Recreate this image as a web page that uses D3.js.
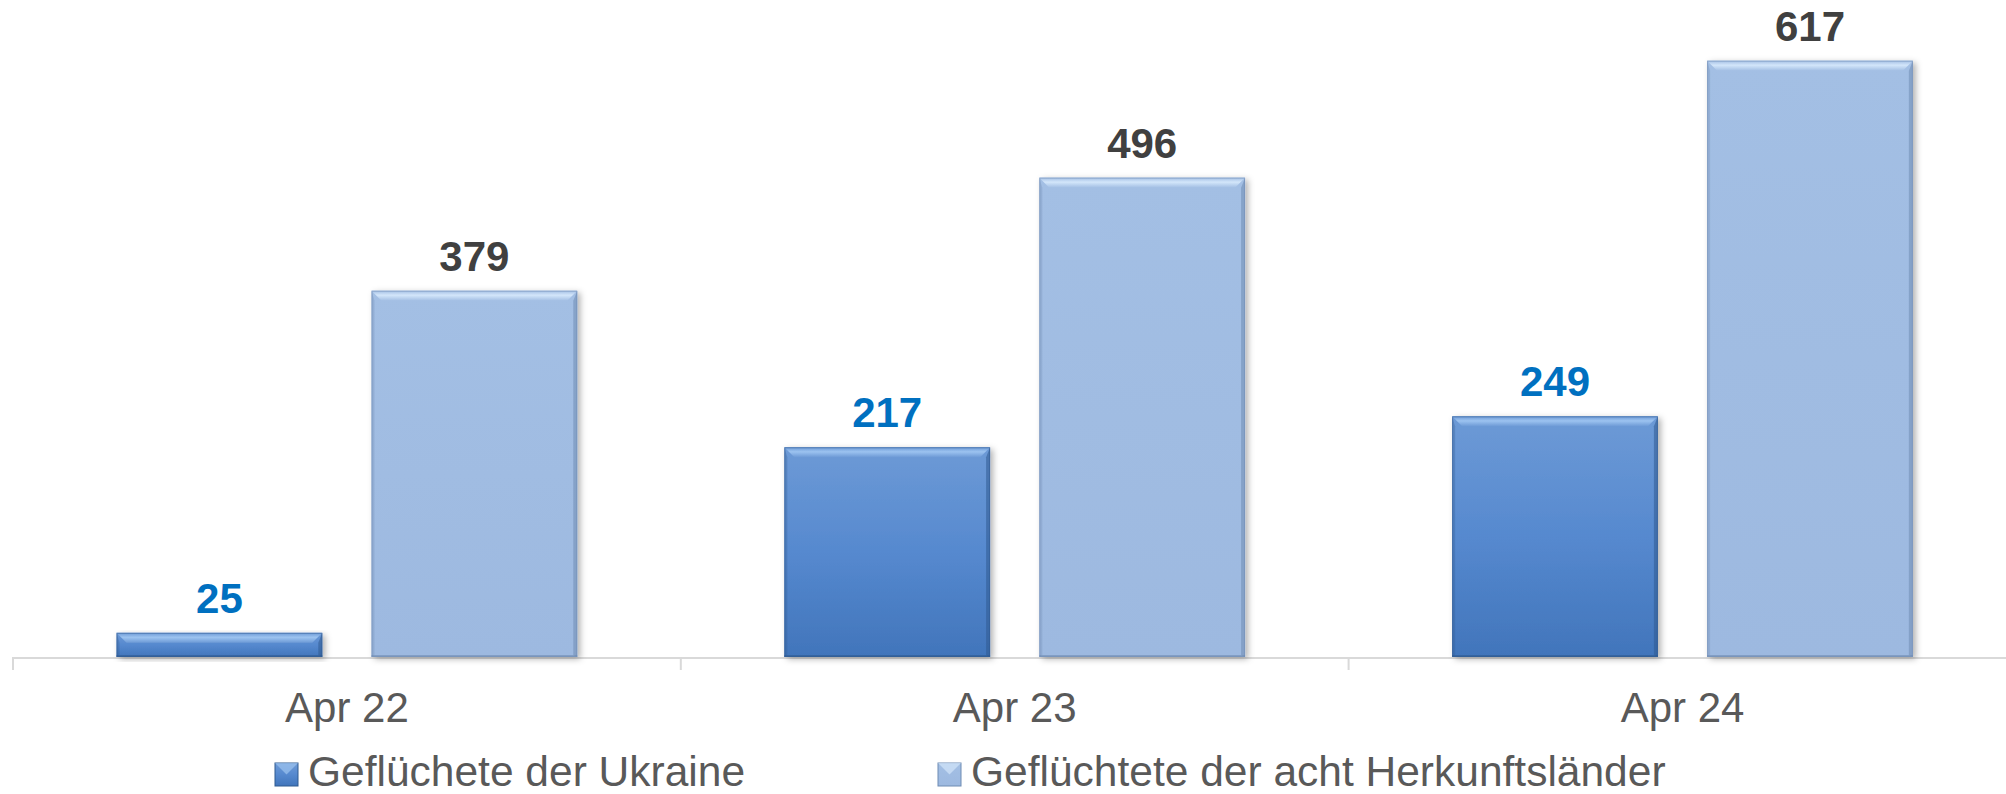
<!DOCTYPE html>
<html>
<head>
<meta charset="utf-8">
<script src="https://cdn.jsdelivr.net/npm/d3@7"></script>
<style>
  body { margin: 0; background: #fff; }
  svg { display: block; font-family: "Liberation Sans", Arial, sans-serif; }
</style>
</head>
<body>
<svg class="chart" width="2006" height="794"></svg>
<script>
//------------------------------------------------------------------------------
//Data
//------------------------------------------------------------------------------
var categories = ["Apr 22", "Apr 23", "Apr 24"];
var seriesNames = ["Geflüchete der Ukraine", "Geflüchtete der acht Herkunftsländer"];
var ukraine = [25, 217, 249];
var achtLaender = [379, 496, 617];

//------------------------------------------------------------------------------
//Chart
//------------------------------------------------------------------------------
var svg = d3.select(".chart");
var width = +svg.attr("width");

var baseY = 657;
var x0 = d3.scaleBand().domain(categories).range([13, 13 + 3 * 667.8]);
var x1 = d3.scaleBand().domain(seriesNames).range([0, x0.bandwidth()])
  .paddingInner(0.193).paddingOuter(0.406);
var y = d3.scaleLinear().domain([0, 617]).range([baseY, 60.7]);

var styles = [
  { top: "#6d9ad6", mid: "#5689cf", bot: "#4175bb", bevel: "#9cc3f0", dark: "#2f5a90", label: "#0070c0" },
  { top: "#a3bfe4", mid: "#a0bce2", bot: "#9db9e0", bevel: "#d3e6fa", dark: "#6f8cb3", label: "#404040" }
];

var defs = svg.append("defs");
styles.forEach(function (s, i) {
  var g = defs.append("linearGradient").attr("id", "grad" + i)
    .attr("x1", 0).attr("y1", 0).attr("x2", 0).attr("y2", 1);
  g.append("stop").attr("offset", "0%").attr("stop-color", s.top);
  g.append("stop").attr("offset", "50%").attr("stop-color", s.mid);
  g.append("stop").attr("offset", "100%").attr("stop-color", s.bot);
  // top bevel: light in the middle, fading towards the bar
  var b = defs.append("linearGradient").attr("id", "bevel" + i)
    .attr("x1", 0).attr("y1", 0).attr("x2", 0).attr("y2", 1);
  b.append("stop").attr("offset", "0%").attr("stop-color", s.top);
  b.append("stop").attr("offset", "45%").attr("stop-color", s.bevel);
  b.append("stop").attr("offset", "100%").attr("stop-color", s.top);
});
var f = defs.append("filter").attr("id", "shadow")
  .attr("x", "-10%").attr("y", "-10%").attr("width", "130%").attr("height", "130%");
f.append("feDropShadow").attr("dx", 3).attr("dy", 2).attr("stdDeviation", 3)
  .attr("flood-color", "#000").attr("flood-opacity", 0.3);

// axis line + ticks
svg.append("line")
  .attr("x1", 13).attr("x2", width).attr("y1", baseY + 1).attr("y2", baseY + 1)
  .attr("stroke", "#d9d9d9").attr("stroke-width", 2);
var tickPos = [x0.range()[0]].concat(categories.map(function (c) { return x0(c) + x0.bandwidth(); }));
svg.selectAll(".tick").data(tickPos).enter().append("line")
  .attr("x1", function (d) { return d; }).attr("x2", function (d) { return d; })
  .attr("y1", baseY).attr("y2", baseY + 13)
  .attr("stroke", "#d9d9d9").attr("stroke-width", 2);

var rows = [];
categories.forEach(function (c, i) {
  rows.push({ cat: c, s: 0, value: ukraine[i] });
  rows.push({ cat: c, s: 1, value: achtLaender[i] });
});

var bars = svg.selectAll(".bar").data(rows).enter().append("g").attr("class", "bar");

bars.each(function (d) {
  var g = d3.select(this);
  var bx = x0(d.cat) + x1(seriesNames[d.s]);
  var bw = x1.bandwidth();
  var by = y(d.value);
  var bh = baseY - by;
  var st = styles[d.s];
  var b = Math.min(10, bh / 2);

  g.append("rect")
    .attr("x", bx).attr("y", by).attr("width", bw).attr("height", bh)
    .attr("fill", "url(#grad" + d.s + ")")
    .attr("filter", "url(#shadow)");
  // top bevel
  g.append("polygon")
    .attr("points", [[bx, by], [bx + bw, by], [bx + bw - b, by + b], [bx + b, by + b]].join(" "))
    .attr("fill", "url(#bevel" + d.s + ")");
  // right edge
  g.append("polygon")
    .attr("points", [[bx + bw, by], [bx + bw, baseY], [bx + bw - 4, baseY - 2], [bx + bw - 4, by + b]].join(" "))
    .attr("fill", st.dark).attr("opacity", 0.55);
  // left edge
  g.append("polygon")
    .attr("points", [[bx, by], [bx + 3, by + b], [bx + 3, baseY - 2], [bx, baseY]].join(" "))
    .attr("fill", st.dark).attr("opacity", 0.3);
  // bottom edge
  g.append("rect")
    .attr("x", bx).attr("y", baseY - 2).attr("width", bw).attr("height", 2)
    .attr("fill", st.dark).attr("opacity", 0.6);
  g.append("rect")
    .attr("x", bx + 0.5).attr("y", by + 0.5).attr("width", bw - 1).attr("height", bh - 1)
    .attr("fill", "none").attr("stroke", st.dark).attr("stroke-opacity", 0.5).attr("stroke-width", 1);

  g.append("text")
    .attr("x", bx + bw / 2).attr("y", by - 20)
    .attr("text-anchor", "middle")
    .attr("font-size", "42px").attr("font-weight", "bold")
    .attr("fill", st.label)
    .text(d.value);
});

// category labels
svg.selectAll(".cat").data(categories).enter().append("text")
  .attr("x", function (d) { return x0(d) + x0.bandwidth() / 2; })
  .attr("y", 722)
  .attr("text-anchor", "middle")
  .attr("font-size", "42px").attr("fill", "#595959")
  .text(function (d) { return d; });

// legend
var legendX = [275, 938];
var leg = svg.selectAll(".legend").data(seriesNames).enter().append("g")
  .attr("transform", function (d, i) { return "translate(" + legendX[i] + ",763)"; });
leg.append("rect").attr("width", 23).attr("height", 23)
  .attr("fill", function (d, i) { return "url(#grad" + i + ")"; })
  .attr("stroke", function (d, i) { return styles[i].dark; }).attr("stroke-width", 1);
leg.append("polygon").attr("points", "0,0 23,0 11.5,11.5")
  .attr("fill", function (d, i) { return styles[i].bevel; }).attr("opacity", 0.7);
leg.append("text")
  .attr("x", 33).attr("y", 23)
  .attr("font-size", "42.5px").attr("fill", "#595959")
  .text(function (d) { return d; });
</script>
</body>
</html>
